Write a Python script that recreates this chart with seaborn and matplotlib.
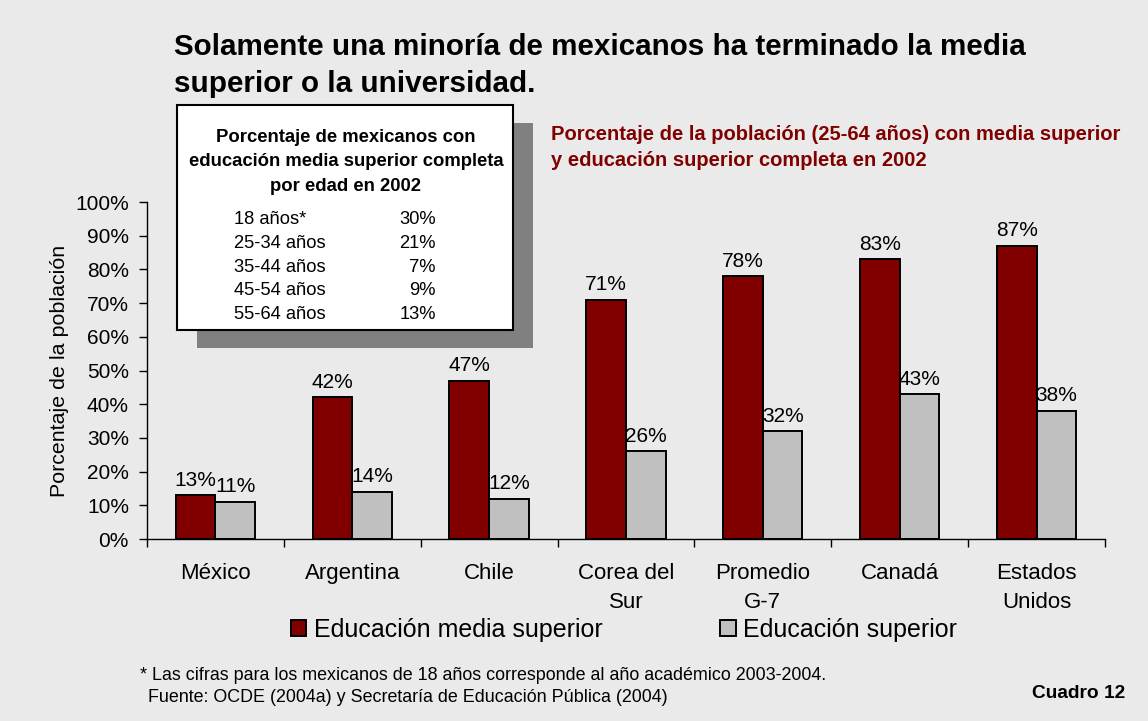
import pandas as pd
import seaborn as sns
import matplotlib.pyplot as plt
import matplotlib.ticker as mticker
from matplotlib.patches import Rectangle

paises = ["México", "Argentina", "Chile", "Corea del\nSur", "Promedio\nG-7", "Canadá", "Estados\nUnidos"]
media_superior = [13, 42, 47, 71, 78, 83, 87]
superior = [11, 14, 12, 26, 32, 43, 38]
series = ["Educación media superior", "Educación superior"]

edades = ["18 años*", "25-34 años", "35-44 años", "45-54 años", "55-64 años"]
pct_edad = ["30%", "21%", "7%", "9%", "13%"]

BG = "#EAEAEA"
ROJO = "#800000"
GRIS = "#C0C0C0"

df = pd.DataFrame({
    "pais": paises * 2,
    "valor": media_superior + superior,
    "serie": [series[0]] * len(paises) + [series[1]] * len(paises),
})

sns.set_theme(style="white")
plt.rcParams["font.family"] = ["Liberation Sans", "DejaVu Sans"]
plt.rcParams["text.color"] = "black"
plt.rcParams["axes.labelcolor"] = "black"
plt.rcParams["xtick.color"] = "black"
plt.rcParams["ytick.color"] = "black"

fig = plt.figure(figsize=(11.48, 7.21), dpi=100, facecolor=BG)
ax = fig.add_axes([0.128, 0.2524, 0.8345, 0.4674], facecolor=BG)

sns.barplot(data=df, x="pais", y="valor", hue="serie", palette=[ROJO, GRIS], saturation=1,
            edgecolor="black", linewidth=1.4, width=0.58, ax=ax, legend=False)

for cont in ax.containers:
    vals = [b.get_height() for b in cont]
    txts = ax.bar_label(cont, labels=[f"{v:.0f}%" for v in vals], padding=4,
                        fontsize=15, color="black")
    for t in txts:
        t.set_zorder(0.5)

ax.set_ylim(0, 100)
ax.set_xlim(-0.5, len(paises) - 0.5)
ax.yaxis.set_major_locator(mticker.MultipleLocator(10))
ax.yaxis.set_major_formatter(mticker.StrMethodFormatter("{x:.0f}%"))
ax.tick_params(axis="y", labelsize=15, length=6, width=1, direction="out", left=True, pad=7)
ax.tick_params(axis="x", which="major", labelsize=16, length=0, pad=17)
ax.xaxis.set_minor_locator(mticker.FixedLocator([i - 0.5 for i in range(len(paises) + 1)]))
ax.tick_params(axis="x", which="minor", length=6, width=1, direction="out", bottom=True)
for lab in ax.get_xticklabels():
    lab.set_linespacing(1.5)
ax.set_xlabel("")
ax.set_ylabel("Porcentaje de la población", fontsize=15.4, labelpad=4.5)
sns.despine(ax=ax)
for s in ["left", "bottom"]:
    ax.spines[s].set_color("black")
    ax.spines[s].set_linewidth(1)

# leyenda
handles = [Rectangle((0, 0), 1, 1, facecolor=c, edgecolor="black", linewidth=1.4) for c in [ROJO, GRIS]]
fig.legend(handles, series, loc="center", bbox_to_anchor=(0.5435, 1 - 630 / 721), ncol=2,
           frameon=False, fontsize=18, handlelength=0.62, handleheight=0.62,
           handletextpad=0.3, columnspacing=4.7)

# títulos
fig.text(0.152, 1 - 33 / 721, "Solamente una minoría de mexicanos ha terminado la media\nsuperior o la universidad.",
         fontsize=21.3, fontweight="bold", va="top", ha="left", linespacing=1.43)
fig.text(551 / 1148, 1 - 125 / 721, "Porcentaje de la población (25-64 años) con media superior\ny educación superior completa en 2002",
         fontsize=14.5, fontweight="bold", color=ROJO, va="top", ha="left", linespacing=1.47)

# recuadro con sombra
bx0, by0, bw, bh = 177 / 1148, 1 - 330 / 721, 336 / 1148, 225 / 721
fig.patches.append(Rectangle((bx0 + 20 / 1148, by0 - 18 / 721), bw, bh, transform=fig.transFigure,
                             facecolor="#808080", edgecolor="none", zorder=5))
fig.patches.append(Rectangle((bx0, by0), bw, bh, transform=fig.transFigure,
                             facecolor="white", edgecolor="black", linewidth=1.5, zorder=6))
fig.text(346 / 1148, 1 - 128.5 / 721,
         "Porcentaje de mexicanos con\neducación media superior completa\npor edad en 2002",
         fontsize=13.3, fontweight="bold", ha="center", va="top", linespacing=1.58, zorder=7)
for i, (e, p) in enumerate(zip(edades, pct_edad)):
    y = 1 - (219.5 + i * 23.75) / 721
    fig.text(234 / 1148, y, e, fontsize=13.2, ha="left", va="center", zorder=7)
    fig.text(436 / 1148, y, p, fontsize=13.2, ha="right", va="center", zorder=7)

# notas
fig.text(140 / 1148, 1 - 676 / 721,
         "* Las cifras para los mexicanos de 18 años corresponde al año académico 2003-2004.",
         fontsize=12.9, va="center", ha="left")
fig.text(148 / 1148, 1 - 698 / 721,
         "Fuente: OCDE (2004a) y Secretaría de Educación Pública (2004)",
         fontsize=12.9, va="center", ha="left")
fig.text(1125 / 1148, 1 - 693 / 721, "Cuadro 12", fontsize=13.8, fontweight="bold", va="center", ha="right")

fig.savefig("out.png", dpi=100, facecolor=BG)
